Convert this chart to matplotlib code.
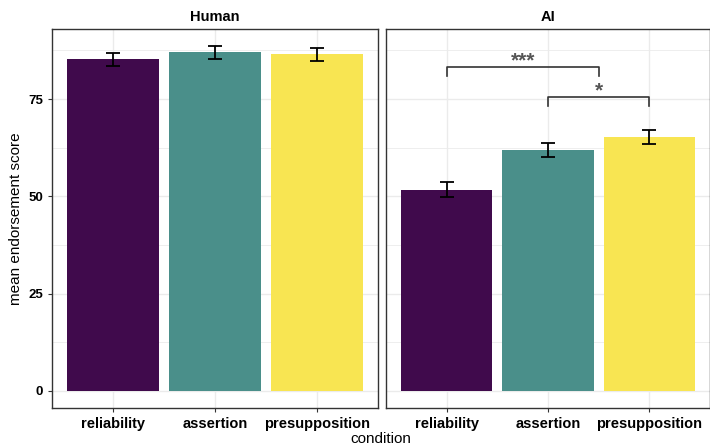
import matplotlib.pyplot as plt
import numpy as np

plt.rcParams['font.family'] = ['Liberation Sans', 'DejaVu Sans']

conditions = ['reliability', 'assertion', 'presupposition']
panels = ['Human', 'AI']
means = {'Human': [85.2, 87.0, 86.5], 'AI': [51.7, 62.0, 65.2]}
errs = {'Human': [1.7, 1.75, 1.7], 'AI': [1.9, 1.8, 1.8]}
colors = ['#400A4C', '#4A8F8A', '#F8E552']
# significance brackets in AI panel: (x start, x end, y, label)
sig = [(1, 2.5, 83.3, '***'), (2, 3, 75.6, '*')]

fig = plt.figure(figsize=(7.1, 4.47), dpi=100)
ax_l = fig.add_axes([52 / 710, 1 - 408 / 447, 326 / 710, 379 / 447])
ax_r = fig.add_axes([386 / 710, 1 - 408 / 447, 324 / 710, 379 / 447], sharey=ax_l)

xs = np.arange(1, len(conditions) + 1)
for ax, name in zip([ax_l, ax_r], panels):
    ax.set_facecolor('white')
    for y in np.arange(-12.5, 100, 12.5):
        ax.axhline(y, color='#ebebeb', lw=0.6 if y % 25 else 1.0, zorder=0)
    for x in xs:
        ax.axvline(x, color='#ebebeb', lw=1.0, zorder=0)
    ax.bar(xs, means[name], width=0.9, color=colors, zorder=2)
    ax.errorbar(xs, means[name], yerr=errs[name], fmt='none', ecolor='black',
                elinewidth=1.3, capsize=5, capthick=1.3, zorder=3)
    ax.set_xlim(0.4, 3.6)
    ax.set_ylim(-4.4, 93)
    ax.set_xticks(xs)
    ax.set_xticklabels(conditions, fontsize=10.5, fontweight='bold')
    ax.set_yticks([0, 25, 50, 75])
    ax.set_yticklabels(['0', '25', '50', '75'], fontsize=9.5, fontweight='bold')
    ax.tick_params(length=3, color='#333333', width=0.8)
    for s in ax.spines.values():
        s.set_color('#333333')
        s.set_linewidth(1.0)
    ax.set_title(name, fontsize=10.5, fontweight='bold', pad=6)

ax_r.tick_params(axis='y', left=False, labelleft=False)

for x0, x1, y, lab in sig:
    ax_r.plot([x0, x0, x1, x1], [y - 2.3, y, y, y - 2.3], color='#333333', lw=1.2, zorder=4)
    ax_r.text((x0 + x1) / 2, y + 0.2, lab, ha='center', va='baseline', fontsize=15,
              fontweight='bold', color='#555555')

ax_l.set_ylabel('mean endorsement score', fontsize=11)
fig.text(381 / 710, 1 - 439 / 447, 'condition', ha='center', va='center', fontsize=11)

fig.savefig('out.png', dpi=100)
